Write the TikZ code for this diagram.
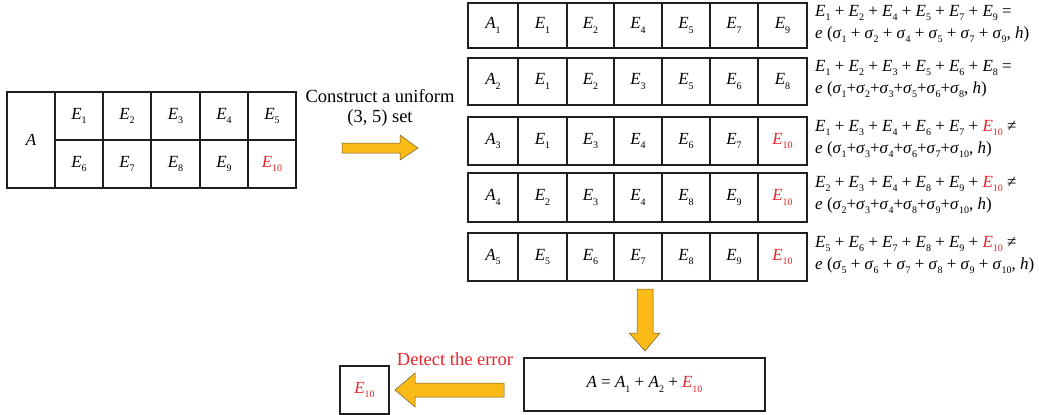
\documentclass[tikz,border=0pt]{standalone}
\usepackage{fontspec}
\setmainfont{Liberation Serif}
\definecolor{errred}{HTML}{E8262B}
\definecolor{arrowfill}{HTML}{FBBA16}
\definecolor{arrowline}{HTML}{6B5A2A}
% small lowered index, as in E_1
\newcommand{\idx}[1]{\raisebox{-0.55ex}{\fontsize{10}{10}\selectfont #1}}
\newcommand{\Ev}[1]{\textit{E}\idx{#1}}
\newcommand{\Av}[1]{\textit{A}\idx{#1}}
\newcommand{\sg}[1]{\textit{σ}\idx{#1}}
\newcommand{\Er}{{\color{errred}\Ev{10}}}
\def\colx{{468,518,567,614,662,710,758,807}}
% one row of seven cells: name, top, bottom, labels
\newcommand\cellrow[4]{%
  \foreach \lbl [count=\k from 0] in {#4} {
    \pgfmathsetmacro\xa{\colx[\k]}
    \pgfmathsetmacro\xb{\colx[\k+1]}
    \node[cell, minimum width={\xb-\xa}, minimum height={#3-#2}]
      (#1-\k) at ({(\xa+\xb)/2},{(#2+#3)/2}) {\lbl};
  }}
\begin{document}
\begin{tikzpicture}[x=1pt,y=-1pt,
  cell/.style={draw=black!88, line width=1.4pt, inner sep=0pt,
    font=\fontsize{17}{17}\selectfont},
  formula/.style={anchor=west, align=left, inner sep=0pt,
    font=\fontsize{17}{22}\selectfont},
  caption/.style={inner sep=0pt, font=\fontsize{18.5}{18.5}\selectfont},
  blockarrow/.style={fill=arrowfill, draw=arrowline, line width=0.5pt}]
\useasboundingbox (0,0) rectangle (1039,415);

% source table
\node[cell, minimum width=48, minimum height=96] (A) at (31,140) {\textit{A}};
\foreach \lbl [count=\k from 0] in {\Ev{1},\Ev{2},\Ev{3},\Ev{4},\Ev{5}} {
  \pgfmathsetmacro\xa{{55,103,151,200,248,296}[\k]}
  \pgfmathsetmacro\xb{{55,103,151,200,248,296}[\k+1]}
  \node[cell, minimum width={\xb-\xa}, minimum height=48]
    (up-\k) at ({(\xa+\xb)/2},116) {\lbl};
}
\foreach \lbl [count=\k from 0] in {\Ev{6},\Ev{7},\Ev{8},\Ev{9},\Er} {
  \pgfmathsetmacro\xa{{55,103,151,200,248,296}[\k]}
  \pgfmathsetmacro\xb{{55,103,151,200,248,296}[\k+1]}
  \node[cell, minimum width={\xb-\xa}, minimum height=48]
    (lo-\k) at ({(\xa+\xb)/2},164) {\lbl};
}

% construction step
\node[caption] (c1) at (380,96) {Construct a uniform};
\node[caption] (c2) at (380,118) {(3, 5) set};
\draw[blockarrow] (342,143) -- (400,143) -- (400,135) -- (418,148)
  -- (400,160) -- (400,153) -- (342,153) -- cycle;

% the five subsets
\cellrow{r1}{3}{48}{\Av{1},\Ev{1},\Ev{2},\Ev{4},\Ev{5},\Ev{7},\Ev{9}}
\cellrow{r2}{58}{105}{\Av{2},\Ev{1},\Ev{2},\Ev{3},\Ev{5},\Ev{6},\Ev{8}}
\cellrow{r3}{117}{165}{\Av{3},\Ev{1},\Ev{3},\Ev{4},\Ev{6},\Ev{7},\Er}
\cellrow{r4}{173}{222}{\Av{4},\Ev{2},\Ev{3},\Ev{4},\Ev{8},\Ev{9},\Er}
\cellrow{r5}{233}{281}{\Av{5},\Ev{5},\Ev{6},\Ev{7},\Ev{8},\Ev{9},\Er}

% checks for each subset
\node[formula] (f1) at (815,24) {\Ev{1} + \Ev{2} + \Ev{4} + \Ev{5} + \Ev{7} + \Ev{9} =\\
  \textit{e} (\sg{1} + \sg{2} + \sg{4} + \sg{5} + \sg{7} + \sg{9}, \textit{h})};
\node[formula] (f2) at (815,79) {\Ev{1} + \Ev{2} + \Ev{3} + \Ev{5} + \Ev{6} + \Ev{8} =\\
  \textit{e} (\sg{1}+\sg{2}+\sg{3}+\sg{5}+\sg{6}+\sg{8}, \textit{h})};
\node[formula] (f3) at (815,139) {\Ev{1} + \Ev{3} + \Ev{4} + \Ev{6} + \Ev{7} + \Er\ ≠\\
  \textit{e} (\sg{1}+\sg{3}+\sg{4}+\sg{6}+\sg{7}+\sg{10}, \textit{h})};
\node[formula] (f4) at (815,195) {\Ev{2} + \Ev{3} + \Ev{4} + \Ev{8} + \Ev{9} + \Er\ ≠\\
  \textit{e} (\sg{2}+\sg{3}+\sg{4}+\sg{8}+\sg{9}+\sg{10}, \textit{h})};
\node[formula] (f5) at (815,255) {\Ev{5} + \Ev{6} + \Ev{7} + \Ev{8} + \Ev{9} + \Er\ ≠\\
  \textit{e} (\sg{5} + \sg{6} + \sg{7} + \sg{8} + \sg{9} + \sg{10}, \textit{h})};

% recombination
\draw[blockarrow] (637,289) -- (653,289) -- (653,333) -- (660,333)
  -- (645,351) -- (629,333) -- (637,333) -- cycle;
\node[cell, minimum width=241, minimum height=53] (sum) at (644.5,384.5)
  {\textit{A} = \Av{1} + \Av{2} + \Er};

% detection
\draw[blockarrow] (504,383) -- (415,383) -- (415,373) -- (395,390)
  -- (415,407) -- (415,397) -- (504,397) -- cycle;
\node[caption, text=errred] (det) at (455,359) {Detect the error};
\node[cell, minimum width=49, minimum height=48] (err) at (364.5,390) {\Er};
\end{tikzpicture}
\end{document}
